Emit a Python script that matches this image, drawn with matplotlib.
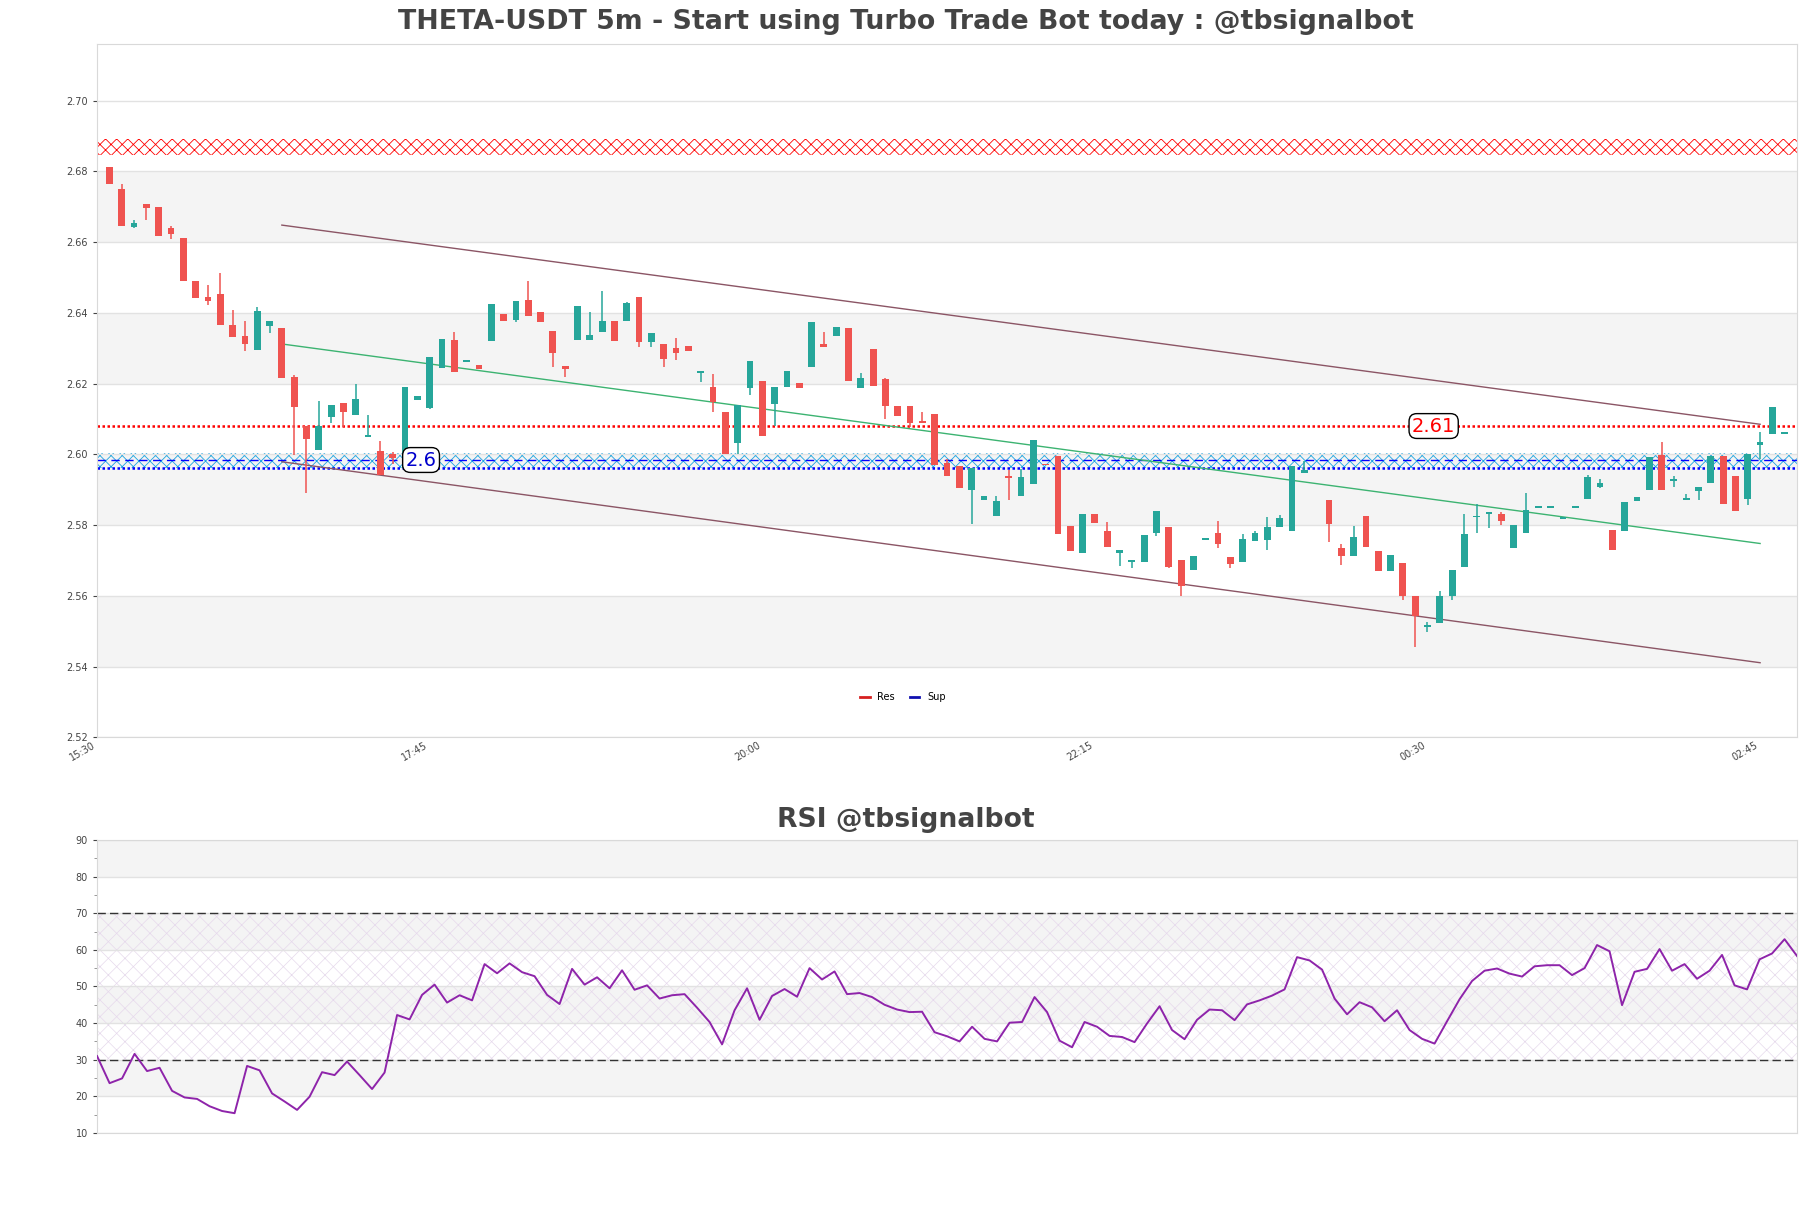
import numpy as np
import matplotlib
matplotlib.use("Agg")
import matplotlib.pyplot as plt
from matplotlib.lines import Line2D

# --- data (5m candles, index 0 = 15:35) ---
opens = [2.6812, 2.6749, 2.6643, 2.6707, 2.6698, 2.6639, 2.6611, 2.6489, 2.6445, 2.6454,
         2.6365, 2.6334, 2.6295, 2.6363, 2.6357, 2.6219, 2.6080, 2.6013, 2.6106, 2.6144,
         2.6112, 2.6050, 2.6009, 2.6001, 2.5960, 2.6154, 2.6132, 2.6244, 2.6323, 2.6261,
         2.6252, 2.6321, 2.6396, 2.6379, 2.6435, 2.6401, 2.6350, 2.6249, 2.6323, 2.6323,
         2.6345, 2.6378, 2.6378, 2.6446, 2.6317, 2.6311, 2.6302, 2.6305, 2.6231, 2.6189,
         2.6119, 2.6032, 2.6187, 2.6206, 2.6142, 2.6190, 2.6201, 2.6247, 2.6313, 2.6334,
         2.6356, 2.6187, 2.6297, 2.6213, 2.6138, 2.6138, 2.6093, 2.6113, 2.5975, 2.5968,
         2.5898, 2.5870, 2.5827, 2.5938, 2.5881, 2.5915, 2.5973, 2.5996, 2.5798, 2.5720,
         2.5832, 2.5784, 2.5721, 2.5695, 2.5697, 2.5779, 2.5795, 2.5702, 2.5672, 2.5758,
         2.5777, 2.5711, 2.5697, 2.5756, 2.5759, 2.5796, 2.5782, 2.5946, np.nan, 2.5872,
         2.5736, 2.5714, 2.5826, 2.5728, 2.5669, 2.5694, 2.5601, 2.5513, 2.5522, 2.5601,
         2.5681, 2.5822, 2.5831, 2.5830, 2.5734, 2.5777, 2.5848, 2.5848, 2.5818, 2.5848,
         2.5873, 2.5909, 2.5787, 2.5782, 2.5868, 2.5898, 2.5999, 2.5925, 2.5872, 2.5895,
         2.5918, 2.5995, 2.5939, 2.5875, 2.6026, 2.6057, 2.6058]
highs = [2.6812, 2.6763, 2.6662, 2.6707, 2.6698, 2.6645, 2.6611, 2.6489, 2.6478, 2.6512,
         2.6409, 2.6376, 2.6417, 2.6376, 2.6357, 2.6223, 2.6080, 2.6151, 2.6139, 2.6144,
         2.6198, 2.6111, 2.6037, 2.6007, 2.6190, 2.6164, 2.6275, 2.6325, 2.6345, 2.6263,
         2.6252, 2.6424, 2.6396, 2.6434, 2.6491, 2.6401, 2.6350, 2.6249, 2.6418, 2.6402,
         2.6463, 2.6378, 2.6432, 2.6446, 2.6342, 2.6311, 2.6328, 2.6307, 2.6233, 2.6226,
         2.6119, 2.6140, 2.6265, 2.6206, 2.6189, 2.6237, 2.6201, 2.6373, 2.6346, 2.6359,
         2.6356, 2.6231, 2.6297, 2.6216, 2.6138, 2.6138, 2.6121, 2.6113, 2.5987, 2.5968,
         2.5962, 2.5882, 2.5883, 2.5956, 2.5958, 2.6041, 2.5973, 2.5996, 2.5798, 2.5832,
         2.5832, 2.5809, 2.5730, 2.5697, 2.5773, 2.5841, 2.5795, 2.5702, 2.5713, 2.5758,
         2.5812, 2.5711, 2.5776, 2.5782, 2.5822, 2.5829, 2.5968, 2.5982, np.nan, 2.5872,
         2.5747, 2.5798, 2.5826, 2.5728, 2.5716, 2.5694, 2.5601, 2.5525, 2.5615, 2.5674,
         2.5832, 2.5859, 2.5832, 2.5836, 2.5801, 2.5890, 2.5848, 2.5848, 2.5818, 2.5848,
         2.5941, 2.5930, 2.5787, 2.5866, 2.5879, 2.5993, 2.6035, 2.5940, 2.5888, 2.5907,
         2.5995, 2.5995, 2.5939, 2.6001, 2.6062, 2.6133, 2.6058]
lows = [2.6764, 2.6646, 2.6640, 2.6662, 2.6617, 2.6609, 2.6490, 2.6442, 2.6422, 2.6366,
        2.6332, 2.6293, 2.6295, 2.6343, 2.6216, 2.5998, 2.5890, 2.6013, 2.6089, 2.6078,
        2.6112, 2.6050, 2.5941, 2.5974, 2.5960, 2.6154, 2.6127, 2.6244, 2.6233, 2.6261,
        2.6240, 2.6321, 2.6378, 2.6374, 2.6391, 2.6374, 2.6247, 2.6220, 2.6323, 2.6323,
        2.6345, 2.6320, 2.6378, 2.6303, 2.6303, 2.6247, 2.6266, 2.6293, 2.6204, 2.6120,
        2.6002, 2.6002, 2.6168, 2.6052, 2.6079, 2.6190, 2.6187, 2.6247, 2.6303, 2.6334,
        2.6207, 2.6187, 2.6193, 2.6101, 2.6108, 2.6077, 2.6090, 2.5969, 2.5940, 2.5906,
        2.5804, 2.5870, 2.5827, 2.5870, 2.5881, 2.5915, 2.5969, 2.5774, 2.5726, 2.5720,
        2.5805, 2.5737, 2.5683, 2.5679, 2.5697, 2.5768, 2.5678, 2.5601, 2.5672, 2.5757,
        2.5735, 2.5679, 2.5697, 2.5756, 2.5729, 2.5796, 2.5782, 2.5946, np.nan, 2.5751,
        2.5686, 2.5714, 2.5737, 2.5669, 2.5669, 2.5589, 2.5456, 2.5497, 2.5522, 2.5587,
        2.5681, 2.5779, 2.5792, 2.5801, 2.5734, 2.5777, 2.5848, 2.5848, 2.5818, 2.5848,
        2.5873, 2.5906, 2.5731, 2.5782, 2.5868, 2.5898, 2.5898, 2.5907, 2.5872, 2.5870,
        2.5918, 2.5861, 2.5839, 2.5856, 2.5988, 2.6057, 2.6058]
closes = [2.6764, 2.6646, 2.6654, 2.6696, 2.6617, 2.6623, 2.6490, 2.6442, 2.6434, 2.6366,
          2.6332, 2.6312, 2.6404, 2.6376, 2.6216, 2.6134, 2.6044, 2.6080, 2.6139, 2.6120,
          2.6156, 2.6054, 2.5941, 2.5991, 2.6190, 2.6164, 2.6275, 2.6325, 2.6233, 2.6263,
          2.6240, 2.6424, 2.6378, 2.6434, 2.6391, 2.6374, 2.6286, 2.6241, 2.6418, 2.6336,
          2.6378, 2.6320, 2.6427, 2.6317, 2.6342, 2.6269, 2.6286, 2.6293, 2.6233, 2.6147,
          2.6002, 2.6140, 2.6265, 2.6052, 2.6189, 2.6237, 2.6187, 2.6373, 2.6303, 2.6359,
          2.6207, 2.6217, 2.6193, 2.6137, 2.6108, 2.6089, 2.6090, 2.5969, 2.5940, 2.5906,
          2.5962, 2.5882, 2.5868, 2.5932, 2.5937, 2.6041, 2.5969, 2.5774, 2.5726, 2.5832,
          2.5805, 2.5737, 2.5730, 2.5697, 2.5773, 2.5841, 2.5681, 2.5627, 2.5713, 2.5758,
          2.5747, 2.5689, 2.5761, 2.5779, 2.5795, 2.5821, 2.5968, 2.5956, np.nan, 2.5804,
          2.5714, 2.5767, 2.5737, 2.5669, 2.5716, 2.5601, 2.5544, 2.5515, 2.5601, 2.5674,
          2.5776, 2.5823, 2.5832, 2.5811, 2.5801, 2.5843, 2.5848, 2.5848, 2.5818, 2.5848,
          2.5937, 2.5920, 2.5731, 2.5866, 2.5879, 2.5993, 2.5898, 2.5930, 2.5872, 2.5907,
          2.5995, 2.5861, 2.5839, 2.6001, 2.6036, 2.6133, 2.6058]

rsi = [31.0, 23.6, 24.9, 31.6, 26.9, 27.8, 21.5, 19.7, 19.3, 17.3, 16.0, 15.4, 28.3, 27.1,
       20.8, 18.6, 16.3, 19.9, 26.6, 25.8, 29.5, 25.8, 22.0, 26.5, 42.2, 41.0, 47.7, 50.5,
       45.6, 47.6, 46.2, 56.1, 53.6, 56.3, 53.9, 52.8, 47.7, 45.2, 54.8, 50.5, 52.5, 49.5,
       54.4, 49.1, 50.3, 46.7, 47.6, 47.9, 44.2, 40.3, 34.2, 43.5, 49.5, 40.9, 47.4, 49.3,
       47.2, 55.0, 51.9, 54.1, 47.9, 48.2, 47.1, 45.0, 43.7, 43.0, 43.1, 37.5, 36.4, 35.0,
       39.0, 35.7, 35.0, 40.1, 40.3, 47.1, 43.0, 35.2, 33.4, 40.3, 39.0, 36.5, 36.2, 34.8,
       39.9, 44.6, 38.1, 35.6, 40.9, 43.7, 43.5, 40.8, 45.1, 46.2, 47.5, 49.2, 58.0, 57.1,
       54.6, 46.7, 42.4, 45.7, 44.3, 40.5, 43.5, 38.1, 35.7, 34.4, 40.5, 46.5, 51.5, 54.3,
       54.9, 53.5, 52.7, 55.5, 55.8, 55.8, 53.1, 55.0, 61.3, 59.6, 44.9, 54.0, 54.8, 60.2,
       54.3, 56.1, 52.1, 54.3, 58.6, 50.3, 49.2, 57.4, 59.0, 62.9, 58.3]

tick_labels = ["15:30", "17:45", "20:00", "22:15", "00:30", "02:45"]

res_zone = (2.6846, 2.6892)
res_line = 2.6080
sup_zone = (2.5961, 2.6003)
sup_mid = 2.5984
sup_line = 2.5961

# channel / trend lines: (x0, y0, x1, y1) in candle index
channel_upper = (14, 2.6648, 134, 2.6085)
channel_lower = (14, 2.5979, 134, 2.5411)
mid_trend = (14, 2.6312, 134, 2.5748)

# --- figure ---
GREEN = "#26a69a"
RED = "#ef5350"
BAND = "#f4f4f4"
GRID = "#e2e2e2"
TXT = "#444444"

fig = plt.figure(figsize=(18.11, 12.08), dpi=100)
ax = fig.add_axes([0.0536, 0.3896, 0.9387, 0.574])
ax_rsi = fig.add_axes([0.0536, 0.0621, 0.9387, 0.2426])

o = np.array(opens)
h = np.array(highs)
l = np.array(lows)
c = np.array(closes)
x = np.arange(len(o))

# background bands and grid
yt = np.round(np.arange(2.52, 2.7001, 0.02), 2)
for lo in yt[1:-1:2]:
    ax.axhspan(lo, lo + 0.02, color=BAND, zorder=0, lw=0)
ax.set_yticks(yt)
ax.grid(axis="y", color=GRID, lw=1, zorder=0.5)

# resistance / support zones
plt.rcParams["hatch.linewidth"] = 0.6
ax.fill_between([-1, 137], res_zone[0], res_zone[1], facecolor="none",
                edgecolor="red", hatch="xxx", lw=0, zorder=1)
ax.fill_between([-1, 137], sup_zone[0], sup_zone[1], facecolor="none",
                edgecolor="#1aa3e0", hatch="xxx", lw=0, zorder=1)
ax.axhline(res_line, color="red", ls=(0, (1, 1)), lw=1.8, zorder=1.5)
ax.axhline(sup_mid, color="blue", ls=(0, (6, 4)), lw=1, zorder=1.5)
ax.axhline(sup_line, color="blue", ls=(0, (1, 1)), lw=1.8, zorder=1.5)

# trend lines
for (x0, y0, x1, y1), col in [(channel_upper, "#8b5565"), (channel_lower, "#8b5565"),
                              (mid_trend, "#3cb371")]:
    ax.plot([x0, x1], [y0, y1], color=col, lw=1, zorder=2)

# candles
up = c >= o
colors = np.where(up, GREEN, RED)
body_lo = np.minimum(o, c)
body_h = np.maximum(np.abs(c - o), 0.0005)
ax.vlines(x, l, h, colors=colors, lw=1.1, zorder=3)
ax.bar(x, body_h, bottom=body_lo, width=0.55, color=colors, lw=0, zorder=4)

# price labels
box = dict(boxstyle="round,pad=0.15,rounding_size=0.4", fc="white", ec="black", lw=1)
ax.text(25.3, sup_mid, "2.6", color="#0000cc", fontsize=14, ha="center", va="center",
        bbox=box, zorder=6)
ax.text(107.5, res_line, "2.61", color="red", fontsize=14, ha="center", va="center",
        bbox=box, zorder=6)

ax.set_xlim(-1, 137)
ax.set_ylim(2.52, 2.716)
tick_pos = np.arange(-1, 137, 27)
ax.set_xticks(tick_pos)
ax.set_xticklabels(tick_labels, rotation=30, ha="right", fontsize=7, color=TXT)
ax.tick_params(axis="y", labelsize=7, colors=TXT, length=3)
ax.tick_params(axis="x", length=0, pad=2)
ax.yaxis.set_major_formatter(matplotlib.ticker.FormatStrFormatter("%.2f"))
for s in ax.spines.values():
    s.set_color("#d9d9d9")

handles = [Line2D([], [], color="#d62020", lw=2), Line2D([], [], color="#1010b0", lw=2)]
ax.legend(handles, ["Res", "Sup"], loc="lower center", bbox_to_anchor=(0.474, 0.038),
          ncol=2, frameon=False, fontsize=7, handlelength=1.0, columnspacing=1.5)

fig.text(0.5, 0.982, "THETA-USDT 5m - Start using Turbo Trade Bot today : @tbsignalbot",
         ha="center", va="center", fontsize=19.3, fontweight="bold", color=TXT)

# --- RSI panel ---
xr = np.arange(len(rsi))
for lo in [20, 40, 60, 80]:
    ax_rsi.axhspan(lo, lo + 10, color=BAND, zorder=0, lw=0)
plt.rcParams["hatch.linewidth"] = 0.5
ax_rsi.fill_between([0, len(rsi) - 1], 30, 70, facecolor="none", edgecolor="#e6d9ec",
                    hatch="xx", lw=0, zorder=0.6)
ax_rsi.set_yticks(np.arange(10, 91, 10))
ax_rsi.set_yticks(np.arange(15, 90, 10), minor=True)
ax_rsi.grid(axis="y", which="major", color=GRID, lw=1, zorder=0.5)
ax_rsi.axhline(70, color="#333333", ls=(0, (6, 3)), lw=1, zorder=2)
ax_rsi.axhline(30, color="#333333", ls=(0, (6, 3)), lw=1, zorder=2)
ax_rsi.plot(xr, rsi, color="#8e24aa", lw=1.4, zorder=3)
ax_rsi.set_xlim(0, len(rsi) - 1)
ax_rsi.set_ylim(10, 90)
ax_rsi.set_xticks([])
ax_rsi.tick_params(axis="y", labelsize=7, colors=TXT, length=3)
ax_rsi.tick_params(axis="y", which="minor", length=2, colors="#888888")
for s in ax_rsi.spines.values():
    s.set_color("#d9d9d9")

fig.text(0.5, 0.321, "RSI @tbsignalbot", ha="center", va="center", fontsize=19.2,
         fontweight="bold", color=TXT)

fig.savefig("out.png", dpi=100)
